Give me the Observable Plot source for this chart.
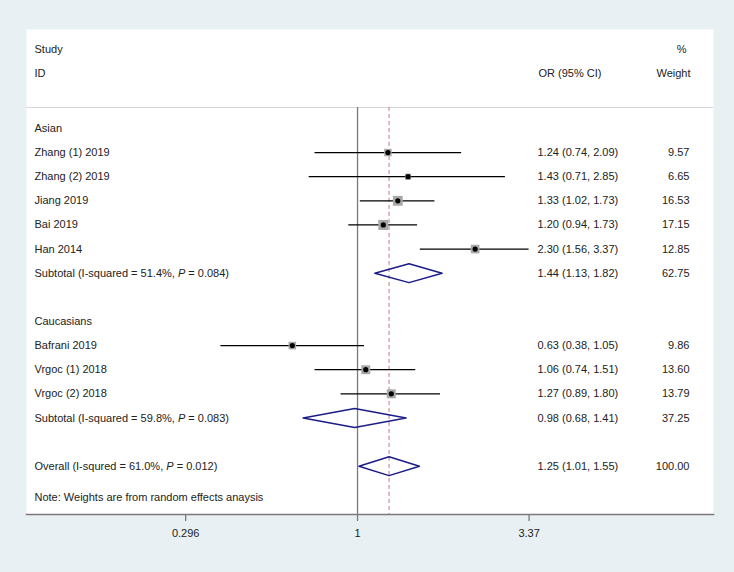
<!DOCTYPE html>
<html>
<head>
<meta charset="utf-8">
<script src="https://cdn.jsdelivr.net/npm/d3@7"></script>
<script src="https://cdn.jsdelivr.net/npm/@observablehq/plot@0.6"></script>
<style>
  html, body { margin: 0; padding: 0; background: #e8f0f3; }
</style>
</head>
<body>
<div id="chart"></div>
<script>
// ---------- data ----------
const groupNames = ["Asian", "Caucasians"];
const studyLabels = ["Zhang (1) 2019", "Zhang (2) 2019", "Jiang 2019", "Bai 2019", "Han 2014",
                     "Bafrani 2019", "Vrgoc (1) 2018", "Vrgoc (2) 2018"];
const studyGroup = [0, 0, 0, 0, 0, 1, 1, 1];
const studyOR    = [1.24, 1.43, 1.33, 1.20, 2.30, 0.63, 1.06, 1.27];
const studyLower = [0.74, 0.71, 1.02, 0.94, 1.56, 0.38, 0.74, 0.89];
const studyUpper = [2.09, 2.85, 1.73, 1.53, 3.37, 1.05, 1.51, 1.80];
const studyCIText = ["1.24 (0.74, 2.09)", "1.43 (0.71, 2.85)", "1.33 (1.02, 1.73)", "1.20 (0.94, 1.73)",
                     "2.30 (1.56, 3.37)", "0.63 (0.38, 1.05)", "1.06 (0.74, 1.51)", "1.27 (0.89, 1.80)"];
const studyWeight = [9.57, 6.65, 16.53, 17.15, 12.85, 9.86, 13.60, 13.79];

const subLabels = ["Subtotal (I-squared = 51.4%, P = 0.084)", "Subtotal (I-squared = 59.8%, P = 0.083)"];
const subOR     = [1.44, 0.98];
const subLower  = [1.13, 0.68];
const subUpper  = [1.82, 1.41];
const subWeight = [62.75, 37.25];

const overallLabel  = "Overall (I-squred = 61.0%, P = 0.012)";
const overallOR     = 1.25;
const overallLower  = 1.01;
const overallUpper  = 1.55;
const overallWeight = 100.00;

const tickValues = [0.296, 1, 3.37];
const tickLabels = ["0.296", "1", "3.37"];
const noteText = "Note: Weights are from random effects anaysis";

// ---------- build row table ----------
const textRows = [];
const studyRows = [];
const summaryRows = [];
let r = 0;
groupNames.forEach((g, gi) => {
  textRows.push({row: r++, label: g});
  studyLabels.forEach((s, i) => {
    if (studyGroup[i] !== gi) return;
    const d = {row: r++, label: s, or: studyOR[i], lo: studyLower[i], hi: studyUpper[i],
               ci: studyCIText[i], w: studyWeight[i]};
    studyRows.push(d); textRows.push(d);
  });
  const sd = {row: r++, label: subLabels[gi], or: subOR[gi], lo: subLower[gi], hi: subUpper[gi],
              w: subWeight[gi]};
  sd.ci = `${sd.or.toFixed(2)} (${sd.lo.toFixed(2)}, ${sd.hi.toFixed(2)})`;
  summaryRows.push(sd); textRows.push(sd);
  r++; // blank row
});
const ov = {row: r, label: overallLabel, or: overallOR, lo: overallLower, hi: overallUpper, w: overallWeight};
ov.ci = `${ov.or.toFixed(2)} (${ov.lo.toFixed(2)}, ${ov.hi.toFixed(2)})`;
summaryRows.push(ov); textRows.push(ov);

const half = 0.39; // diamond half height in row units
const diamondPts = summaryRows.flatMap((d, i) => [
  {id: i, x: d.lo, y: d.row},
  {id: i, x: d.or, y: d.row - half},
  {id: i, x: d.hi, y: d.row},
  {id: i, x: d.or, y: d.row + half}
]);

const sepRow = -0.87;
const yDomain = [-4.1, 16.0];
const valueRows = textRows.filter(d => d.ci !== undefined);

const chart = Plot.plot({
  width: 734,
  height: 572,
  marginLeft: 26,
  marginRight: 21,
  marginTop: 29,
  marginBottom: 58,
  style: {background: "#e8f0f3", fontFamily: "'Liberation Sans', Arial, sans-serif", fontSize: "11px", color: "#222"},
  x: {type: "log", domain: [0.0959, 12.44]},
  y: {domain: yDomain, reverse: true, axis: null},
  r: {type: "sqrt", domain: [0, 20], range: [0, 6.1]},
  marks: [
    Plot.frame({fill: "white", stroke: null}),
    Plot.ruleY([sepRow], {stroke: "#d6d6d6", strokeWidth: 1}),
    Plot.ruleX([1], {y1: sepRow, y2: yDomain[1], stroke: "#7a7a7a", strokeWidth: 1.3}),
    Plot.ruleX([overallOR], {y1: sepRow, y2: yDomain[1], stroke: "#c47a80", strokeWidth: 1, strokeDasharray: "4,3"}),
    Plot.ruleY(studyRows, {y: "row", x1: "lo", x2: "hi", stroke: "black", strokeWidth: 1.3}),
    Plot.dot(studyRows, {x: "or", y: "row", r: "w", symbol: "square", fill: "#a8a8a8", stroke: null}),
    Plot.dot(studyRows, {x: "or", y: "row", r: 2.6, symbol: "circle", fill: "black", stroke: null}),
    Plot.line(diamondPts, {x: "x", y: "y", z: "id", curve: "linear-closed", stroke: "#1c1c88", strokeWidth: 1.5, fill: "none"}),
    Plot.text(textRows, {y: "row", text: "label", frameAnchor: "left", dx: 8, textAnchor: "start", fill: "#222"}),
    Plot.text(valueRows, {y: "row", text: "ci", frameAnchor: "right", dx: -176, textAnchor: "start", fill: "#222"}),
    Plot.text(valueRows, {y: "row", text: d => d.w.toFixed(2), frameAnchor: "right", dx: -24, textAnchor: "end", fill: "#222"}),
    Plot.text(["Study"], {frameAnchor: "top-left", dx: 8, dy: 20, lineAnchor: "middle", textAnchor: "start", fill: "#222"}),
    Plot.text(["ID"], {frameAnchor: "top-left", dx: 8, dy: 44, lineAnchor: "middle", textAnchor: "start", fill: "#222"}),
    Plot.text(["OR (95% CI)"], {frameAnchor: "top-right", dx: -175, dy: 44, lineAnchor: "middle", textAnchor: "start", fill: "#222"}),
    Plot.text(["%"], {frameAnchor: "top-right", dx: -27, dy: 20, lineAnchor: "middle", textAnchor: "end", fill: "#222"}),
    Plot.text(["Weight"], {frameAnchor: "top-right", dx: -23, dy: 44, lineAnchor: "middle", textAnchor: "end", fill: "#222"}),
    Plot.text([noteText], {frameAnchor: "bottom-left", dx: 8, dy: -17, lineAnchor: "middle", textAnchor: "start", fill: "#222"}),
    Plot.axisX({ticks: tickValues, tickFormat: d => tickLabels[tickValues.indexOf(d)], tickSize: 7, tickPadding: 8,
                stroke: "#7a7a7a", strokeWidth: 1.3, fill: "#222", label: null, fontSize: 11}),
    Plot.frame({anchor: "bottom", stroke: "#7a7a7a", strokeWidth: 1.5})
  ]
});

// italicise the "P" in heterogeneity labels
const ns = "http://www.w3.org/2000/svg";
chart.querySelectorAll("text").forEach(t => {
  const s = t.textContent;
  const idx = s.indexOf("P = ");
  if (idx < 0) return;
  const before = s.slice(0, idx), after = s.slice(idx + 1);
  while (t.firstChild) t.removeChild(t.firstChild);
  const a = document.createElementNS(ns, "tspan"); a.textContent = before;
  const p = document.createElementNS(ns, "tspan"); p.textContent = "P"; p.setAttribute("font-style", "italic");
  const b = document.createElementNS(ns, "tspan"); b.textContent = after;
  t.append(a, p, b);
});

document.getElementById("chart").append(chart);
</script>
</body>
</html>
